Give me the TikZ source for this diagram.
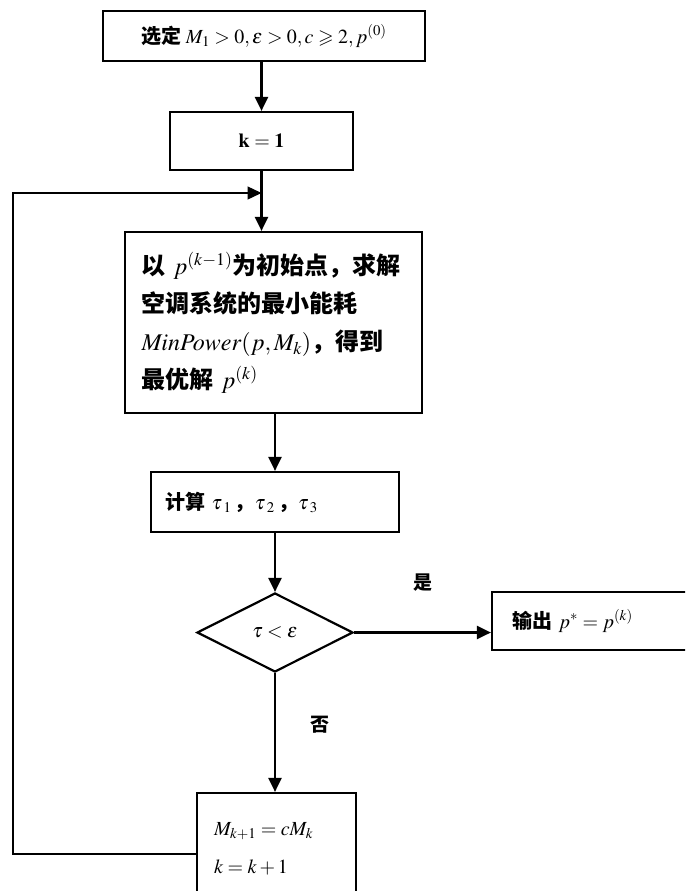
\documentclass[tikz,border=0pt]{standalone}
\usepackage{amsmath,amssymb}
\usepackage{mathptmx}
\usepackage{fontspec}
\setmainfont{Liberation Serif}
\newfontfamily\cjk{Noto Sans CJK SC}
\usetikzlibrary{shapes.geometric,arrows.meta}
\tikzset{
  box/.style={draw, rectangle, line width=2.2, inner sep=0pt},
  arr/.style={line width=2.2, -{Triangle[length=14,width=13]}},
  thinarr/.style={line width=1.4, -{Triangle[length=14,width=13]}},
  txt/.style={font=\cjk\bfseries\fontsize{20}{38}\selectfont},
  bigtxt/.style={font=\cjk\bfseries\fontsize{24}{38}\selectfont},
  lab/.style={font=\cjk\bfseries\fontsize{19}{22}\selectfont, inner sep=0pt}
}
\newcommand{\tsub}[1]{\tau{\kern1.5pt}_{#1}}
\begin{document}
\begin{tikzpicture}[x=1pt,y=-1pt]
\useasboundingbox (0,0) rectangle (685,891);
\clip (0,0) rectangle (685,891);
\fill[white] (0,0) rectangle (685,891);

\node[box, txt, minimum width=322, minimum height=50] (box1) at (264,36)
  {选定 $M_1>0,\varepsilon>0,c\geqslant 2,p^{(0)}$};
\node[box, txt, minimum width=183, minimum height=58] (box2) at (261.5,141)
  {$\mathbf{k=1}$};
\node[box, bigtxt, minimum width=297, minimum height=181, text width=264, align=left] (box3) at (273.5,322.5)
  {以 $p^{(k-1)}$为初始点，求解\\
   空调系统的最小能耗\\
   $\mathit{MinPower}(p,M_k)$，得到\\
   最优解 $p^{(k)}$};
\node[box, txt, minimum width=248, minimum height=60, text width=220, align=left] (box4) at (275,502)
  {计算 $\tsub{1}$\,，$\tsub{2}$\,，$\tsub{3}$};
\node[draw, diamond, line width=2.2, inner sep=0pt, minimum width=156, minimum height=79, txt] (dia) at (275,632.5)
  {$\tau<\varepsilon$};
\node[box, txt, minimum width=208, minimum height=58, text width=168, align=left] (box5) at (596,621)
  {输出 $p^*=p^{(k)}$};
\node[box, txt, minimum width=159, minimum height=112, text width=125, align=left] (box6) at (276.5,849)
  {$M_{k+1}=cM_k$\\ $k=k+1$};

\node[lab] (yes) at (423,583) {是};
\node[lab] (no) at (320,725) {否};

\draw[arr] (box1.south -| box2.north) -- (box2.north);
\draw[arr] (box2.south) -- (box2.south |- box3.north);
\draw[arr] (box3.south -| box4.north) -- (box4.north);
\draw[arr] (box4.south) -- (dia.north);
\draw[arr] (dia.east) -- (dia.east -| box5.west);
\draw[arr] (dia.south) -- (dia.south |- box6.north);
\coordinate (fbl) at (13,854);
\coordinate (fbt) at (13,193);
\draw[thinarr] (box6.west |- fbl) -- (fbl) -- (fbt) -- (fbt -| box2.south);
\end{tikzpicture}
\end{document}
